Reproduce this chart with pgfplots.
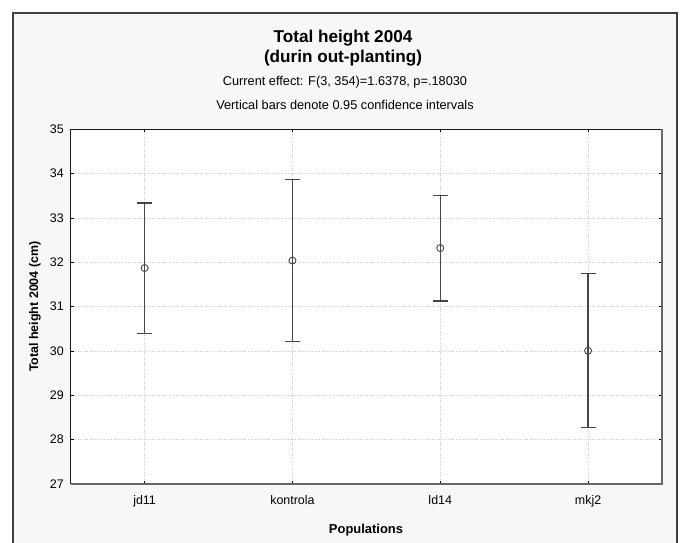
\documentclass[border=0pt]{standalone}
\usepackage{fontspec}
\setmainfont{Liberation Sans}
\usepackage{pgfplots}
\pgfplotsset{compat=1.18}
\definecolor{bgray}{HTML}{F7F7F7}
\definecolor{gridc}{HTML}{CACACA}
\definecolor{barc}{HTML}{454545}
\begin{document}
\begin{tikzpicture}[x=1bp,y=1bp]
\useasboundingbox (0,0) rectangle (681,543);
\fill[white] (0,0) rectangle (681,543);
\fill[bgray] (13,0) rectangle (677,530);
\draw[black!75, line width=1.2bp] (13,-2) -- (13,530) -- (677,530) -- (677,-2);
\node[anchor=base, font=\bfseries\fontsize{17.2}{20}\selectfont] at (343,500) {Total height 2004};
\node[anchor=base, font=\bfseries\fontsize{17.2}{20}\selectfont] at (343,480) {(durin out-planting)};
\node[anchor=base, font=\fontsize{12.8}{15}\selectfont] at (345,457) {Current effect: F(3, 354)=1.6378, p=.18030};
\node[anchor=base, font=\fontsize{12.8}{15}\selectfont] at (345,433.7) {Vertical bars denote 0.95 confidence intervals};
\node[rotate=90, font=\bfseries\fontsize{12.5}{14}\selectfont] at (35,236.3) {Total height 2004 (cm)};
\node[font=\bfseries\fontsize{13}{15}\selectfont] at (366,13) {Populations};
\begin{axis}[
  at={(70.7bp,59bp)}, anchor=south west,
  width=591.3bp, height=354.7bp, scale only axis,
  xmin=0, xmax=4, ymin=27, ymax=35,
  xtick={0.5,1.5,2.5,3.5},
  xticklabels={jd11,kontrola,ld14,mkj2},
  ytick={27,28,...,35},
  tick align=inside,
  major tick length=3bp,
  tick style={black, line width=0.8bp},
  /pgf/number format/assume math mode=true,
  tick label style={font=\fontsize{12.5}{14}\selectfont},
  xticklabel style={anchor=base, yshift=-21bp},
  yticklabel style={xshift=-3.5bp},
  grid=major,
  major grid style={gridc, dotted, line width=0.7bp},
  axis line style={draw=none},
  axis background/.style={fill=white},
  clip=false,
]
\addplot[only marks, mark=o, mark size=3.5bp,
  mark options={fill=white, draw=barc, line width=0.9bp},
  error bars/.cd, y dir=both, y explicit,
  error bar style={line width=1.3bp, draw=barc},
  error mark options={rotate=90, mark size=7.5bp, line width=1.3bp, draw=barc}]
coordinates {
 (0.5,31.87) +- (0,1.47)
 (1.5,32.04) +- (0,1.82)
 (2.5,32.32) +- (0,1.19)
 (3.5,30.005) +- (0,1.735)
};
\draw[black!90, line width=0.9bp] (rel axis cs:0,0) -- (rel axis cs:0,1) -- (rel axis cs:1,1);
\draw[black!60, line width=1.6bp] (rel axis cs:0,0) -- (rel axis cs:1,0) -- (rel axis cs:1,1);
\end{axis}
\end{tikzpicture}
\end{document}
